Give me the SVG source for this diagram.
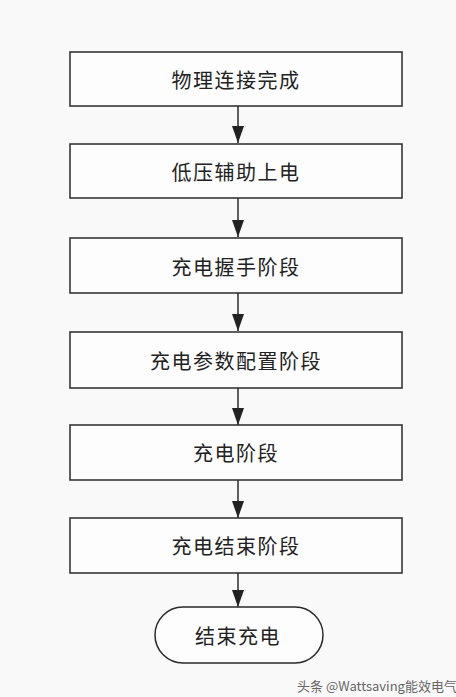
<svg xmlns="http://www.w3.org/2000/svg" width="456" height="697" viewBox="0 0 456 697">
<defs>
<style>
.box{fill:#fdfdfd;stroke:#2a2a2a;stroke-width:1.5}
.t{font-family:"Noto Sans CJK SC","Liberation Sans",sans-serif;font-size:20px;fill:#222;text-anchor:middle;dominant-baseline:central;letter-spacing:1.5px}
.c{stroke:#2a2a2a;stroke-width:1.5;fill:none}
.wm{font-family:"Noto Sans CJK SC","Liberation Sans",sans-serif;font-size:13px;fill:#666}
</style>
</defs>
<rect width="456" height="697" fill="#f9f9f9"/>
<g id="connectors">
<line class="c" x1="238" y1="106" x2="238" y2="143"/>
<path d="M232,126 L244,126 L238,143 Z" fill="#222"/>
<line class="c" x1="238" y1="198" x2="238" y2="237"/>
<path d="M232,220 L244,220 L238,237 Z" fill="#222"/>
<line class="c" x1="238" y1="293" x2="238" y2="331"/>
<path d="M232,314 L244,314 L238,331 Z" fill="#222"/>
<line class="c" x1="238" y1="388" x2="238" y2="425"/>
<path d="M232,408 L244,408 L238,425 Z" fill="#222"/>
<line class="c" x1="238" y1="480" x2="238" y2="518"/>
<path d="M232,501 L244,501 L238,518 Z" fill="#222"/>
<line class="c" x1="238" y1="573" x2="238" y2="607"/>
<path d="M232,590 L244,590 L238,607 Z" fill="#222"/>
</g>
<g id="n1"><rect class="box" x="70" y="52" width="332" height="54"/><text class="t" x="236" y="79">物理连接完成</text></g>
<g id="n2"><rect class="box" x="70" y="144" width="332" height="54"/><text class="t" x="236" y="171">低压辅助上电</text></g>
<g id="n3"><rect class="box" x="70" y="238" width="332" height="55"/><text class="t" x="236" y="266">充电握手阶段</text></g>
<g id="n4"><rect class="box" x="70" y="332" width="332" height="56"/><text class="t" x="236" y="360">充电参数配置阶段</text></g>
<g id="n5"><rect class="box" x="70" y="425" width="332" height="55"/><text class="t" x="236" y="452">充电阶段</text></g>
<g id="n6"><rect class="box" x="70" y="518" width="332" height="55"/><text class="t" x="236" y="545">充电结束阶段</text></g>
<g id="n7"><rect class="box" x="155" y="607" width="168" height="56" rx="28" ry="28"/><text class="t" x="238" y="635">结束充电</text></g>
<text class="wm" x="297" y="691">头条 @Wattsaving能效电气</text>
</svg>
